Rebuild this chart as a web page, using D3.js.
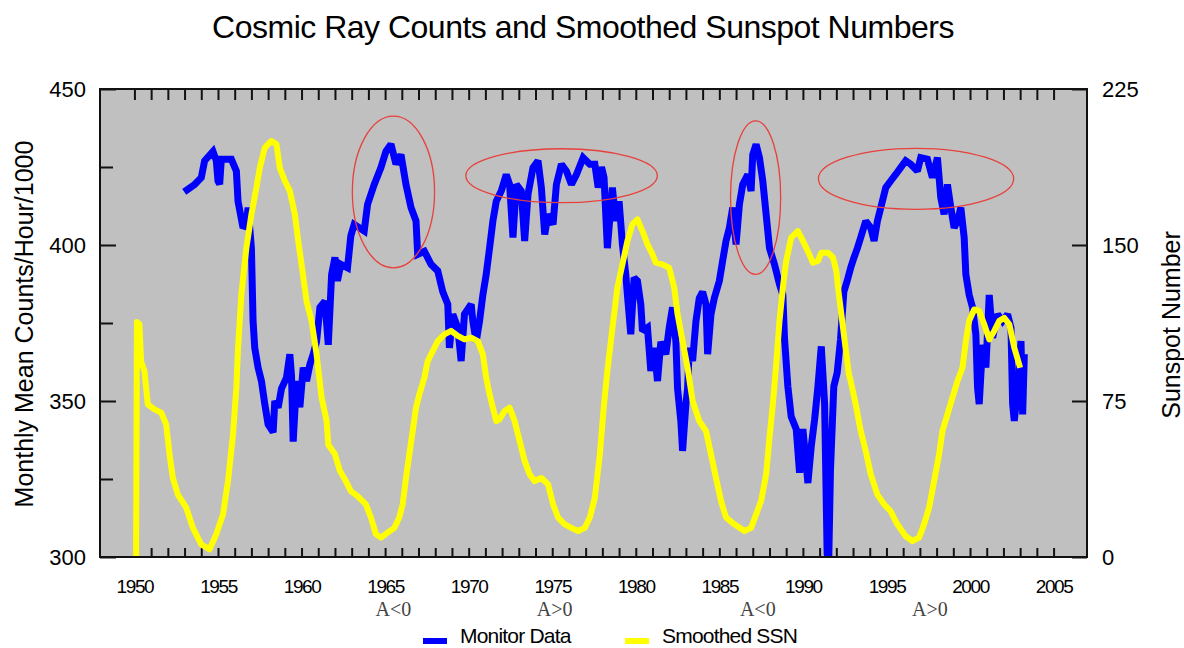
<!DOCTYPE html>
<html>
<head>
<meta charset="utf-8">
<script src="https://cdn.jsdelivr.net/npm/d3@7"></script>
<style>
  body { margin: 0; background: #fff; }
  svg { display: block; font-family: "Liberation Sans", Arial, sans-serif; }
</style>
</head>
<body>
<svg width="1184" height="648"></svg>
<script>
// ---- data ----
var monitorYears = [1952.98, 1953.6, 1954.0, 1954.2, 1954.7, 1954.9, 1955.0, 1955.1, 1955.2, 1955.8,
  1956.1, 1956.2, 1956.5, 1956.7, 1956.8, 1957.0, 1957.1, 1957.2, 1957.4, 1957.6,
  1957.8, 1958.0, 1958.3, 1958.4, 1958.6, 1958.8, 1959.1, 1959.3, 1959.4, 1959.5,
  1959.7, 1959.9, 1960.1, 1960.3, 1960.5, 1960.7, 1960.9, 1961.1, 1961.4, 1961.6,
  1961.8, 1962.0, 1962.15, 1962.35, 1962.75, 1962.95, 1963.15, 1963.75, 1963.95, 1964.35,
  1964.75, 1965.05, 1965.35, 1965.65, 1965.95, 1966.25, 1966.55, 1966.85, 1966.95, 1967.35,
  1967.75, 1968.15, 1968.45, 1968.75, 1968.85, 1969.05, 1969.35, 1969.55, 1969.75, 1970.15,
  1970.25, 1970.45, 1970.65, 1970.85, 1971.05, 1971.25, 1971.45, 1971.65, 1971.95, 1972.25,
  1972.45, 1972.65, 1972.85, 1973.15, 1973.35, 1973.55, 1973.85, 1974.15, 1974.35, 1974.55,
  1974.75, 1975.05, 1975.25, 1975.55, 1975.85, 1976.15, 1976.45, 1976.85, 1977.25, 1977.55,
  1977.75, 1977.95, 1978.1, 1978.3, 1978.6, 1978.8, 1979.0, 1979.2, 1979.4, 1979.5,
  1979.7, 1979.9, 1980.1, 1980.3, 1980.4, 1980.7, 1980.9, 1981.1, 1981.3, 1981.5,
  1981.8, 1982.0, 1982.2, 1982.4, 1982.5, 1982.7, 1982.8, 1983.0, 1983.1, 1983.2,
  1983.4, 1983.6, 1983.8, 1984.0, 1984.2, 1984.3, 1984.5, 1984.7, 1985.0, 1985.2,
  1985.4, 1985.6, 1985.8, 1986.0, 1986.2, 1986.4, 1986.7, 1986.9, 1987.0, 1987.2,
  1987.4, 1987.6, 1987.8, 1988.0, 1988.3, 1988.6, 1988.8, 1988.9, 1989.1, 1989.3,
  1989.6, 1989.8, 1990.0, 1990.3, 1990.5, 1990.7, 1990.9, 1991.1, 1991.3, 1991.45,
  1991.55, 1991.65, 1991.85, 1992.05, 1992.25, 1992.45, 1992.65, 1992.86, 1993.06, 1993.26,
  1993.46, 1993.76, 1994.06, 1994.26, 1994.46, 1994.66, 1994.96, 1995.25, 1995.55, 1995.85,
  1996.15, 1996.45, 1996.85, 1997.05, 1997.45, 1997.75, 1998.05, 1998.25, 1998.45, 1998.65,
  1998.85, 1999.05, 1999.25, 1999.45, 1999.65, 1999.75, 1999.95, 2000.15, 2000.35, 2000.45,
  2000.55, 2000.75, 2000.95, 2001.15, 2001.35, 2001.65, 2001.95, 2002.25, 2002.45, 2002.55,
  2002.65, 2002.85, 2003.05, 2003.15, 2003.25];
var monitorCounts = [417, 419.4, 421.6, 427, 430, 427, 420.5, 419.5, 427.5, 427.5,
  423.7, 414, 405.5, 406.6, 412, 399, 375.6, 367, 360.7, 356.4,
  349, 342.5, 340, 350, 347.9, 354, 357.5, 365, 358, 337,
  356.4, 348, 360.7, 356.4, 361.7, 365, 369, 380, 382, 368,
  390.6, 396, 388.5, 393.8, 392.7, 403, 406.6, 404.5, 413, 419.4,
  424.8, 430, 432.3, 425.9, 429, 419.4, 412, 407.7, 397, 398,
  393.8, 391.7, 385, 381, 367, 377.8, 373.5, 362.8, 377.8, 381,
  375.6, 369, 375.6, 384, 390.6, 399, 407.7, 414, 417.3, 422.6,
  419.4, 402.4, 419.4, 417.3, 401.3, 416.2, 424.8, 427, 418.4, 403.4,
  409.8, 406.6, 419.4, 425.9, 423.7, 419.4, 422.6, 428, 425.9, 425.9,
  418.4, 425, 421.6, 399, 418.4, 407.7, 414, 400.2, 390.6, 384,
  371.4, 389.5, 388.5, 381, 372.4, 373.5, 359.6, 367, 356.4, 369,
  365, 373.5, 380, 369, 354, 343.4, 334, 349, 354, 367,
  362.8, 375.6, 383, 385, 381, 365, 377.8, 383, 388.5, 395,
  401.3, 405.5, 412, 400.2, 413, 419.4, 422.6, 417.3, 429, 432.3,
  428, 420.5, 409.8, 399, 393.8, 387.4, 384, 370, 354.7, 345,
  341, 327, 341, 323.7, 335.5, 344, 354.7, 367.5, 349, 301,
  300, 328, 354.7, 359, 369.6, 385, 388.5, 392.7, 396, 399,
  402.4, 407.7, 405.5, 401.3, 407.7, 412, 418.4, 420.5, 422.6, 424.8,
  427, 425.9, 423.7, 428, 427.5, 421.6, 428, 415.2, 409.8, 419.4,
  412, 405.5, 407.7, 412, 402.4, 390.6, 384, 380, 371.4, 354.3,
  349, 368, 360.7, 384, 370.3, 377.8, 375.6, 377.8, 373.5, 349,
  343.6, 354.3, 369.2, 345.7, 365];

var ssnYears = [1950.1, 1950.15, 1950.3, 1950.4, 1950.6, 1950.8, 1951.2, 1951.6, 1951.9, 1952.1,
  1952.3, 1952.6, 1953.1, 1953.5, 1954.0, 1954.5, 1954.9, 1955.3, 1955.6, 1955.9,
  1956.1, 1956.2, 1956.4, 1956.7, 1957.0, 1957.3, 1957.5, 1957.8, 1958.2, 1958.5,
  1958.7, 1959.0, 1959.3, 1959.6, 1959.8, 1960.0, 1960.3, 1960.6, 1960.9, 1961.2,
  1961.5, 1961.6, 1962.0, 1962.3, 1962.65, 1962.95, 1963.35, 1963.85, 1964.15, 1964.45,
  1964.75, 1965.15, 1965.55, 1965.85, 1966.05, 1966.25, 1966.45, 1966.65, 1966.85, 1967.05,
  1967.35, 1967.55, 1967.85, 1968.15, 1968.55, 1968.95, 1969.35, 1969.75, 1970.15, 1970.55,
  1970.85, 1971.05, 1971.25, 1971.45, 1971.65, 1971.85, 1972.15, 1972.45, 1972.75, 1973.05,
  1973.35, 1973.65, 1973.95, 1974.35, 1974.75, 1975.05, 1975.35, 1975.75, 1976.15, 1976.55,
  1976.95, 1977.25, 1977.55, 1977.85, 1978.1, 1978.3, 1978.6, 1978.9, 1979.2, 1979.5,
  1979.8, 1980.1, 1980.4, 1980.7, 1981.0, 1981.2, 1981.6, 1982.0, 1982.3, 1982.5,
  1982.8, 1983.1, 1983.4, 1983.8, 1984.2, 1984.5, 1984.8, 1985.1, 1985.4, 1985.9,
  1986.5, 1986.9, 1987.2, 1987.5, 1987.8, 1988.0, 1988.2, 1988.4, 1988.6, 1988.8,
  1989.0, 1989.3, 1989.7, 1990.0, 1990.3, 1990.6, 1990.9, 1991.1, 1991.5, 1991.8,
  1992.0, 1992.15, 1992.35, 1992.55, 1992.75, 1992.86, 1993.16, 1993.46, 1993.76, 1994.06,
  1994.46, 1994.86, 1995.25, 1995.65, 1996.15, 1996.55, 1996.95, 1997.25, 1997.55, 1997.85,
  1998.15, 1998.35, 1998.65, 1998.95, 1999.25, 1999.55, 1999.75, 1999.95, 2000.25, 2000.55,
  2000.85, 2001.15, 2001.45, 2001.75, 2002.05, 2002.35, 2002.65, 2003.0];
var ssnValues = [0, 113, 112, 94, 89.4, 73.4, 71, 69.4, 63.8, 49.4,
  38, 30, 23.7, 14, 6, 3.7, 11, 20.5, 36.5, 59,
  81.4, 100.6, 126.3, 148.7, 164.7, 177.6, 187, 196.8, 200, 198.4,
  187, 180.8, 176, 164.7, 152, 140.7, 123, 113.5, 97.4, 76.6,
  65.4, 54, 49.4, 41.3, 36.5, 31.7, 29.3, 25.3, 19, 11,
  9.3, 11.7, 14, 19, 25.3, 38, 49.4, 60.6, 71.8, 78.2,
  86.2, 94.2, 99, 103.8, 107, 108.7, 106.3, 104.6, 105.4, 103.8,
  97.4, 86.2, 78.2, 71.8, 65.4, 66.2, 70.2, 71.8, 65.4, 55.8,
  46.2, 39.7, 36.5, 38, 35, 25.3, 19, 15.7, 14, 12.5,
  14, 19, 28.5, 49.4, 73.4, 89.4, 110, 129.5, 140.7, 152,
  160, 162.3, 156.7, 150.3, 145.5, 141.5, 140.7, 139, 129.5, 116.7,
  103.8, 91, 75, 65.4, 60.6, 49.4, 38, 27, 19, 15.7,
  12.5, 14, 20.5, 27, 39.7, 57.4, 73.4, 92.6, 113.5, 129.5,
  142.3, 153.5, 156.7, 152, 147, 141.5, 142.3, 146.3, 146.3, 144,
  137.5, 126.3, 113.5, 100.6, 87.8, 84.6, 73.4, 60.6, 51, 39.7,
  30, 25.3, 22, 15.7, 10, 7.7, 9.3, 15.7, 23.7, 36.5,
  49.4, 60.6, 68.6, 76.6, 84.6, 91, 103.8, 113.5, 119, 118.3,
  111.9, 104.6, 108.7, 113.5, 115, 111.9, 100.6, 91];

var yearTicks = d3.range(1950, 2006);
var yearLabels = d3.range(1950, 2006, 5);
var countTicks = [300, 325, 350, 375, 400, 425, 450];
var countLabels = [300, 350, 400, 450];
var ssnTicks = [0, 75, 150, 225];

// ellipses: centre year, centre count, half width (years), half height (counts)
var ellipses = [
  {year: 1965.5, count: 417.0, ry: 2.46, rc: 24.3},
  {year: 1975.56, count: 422.2, ry: 5.73, rc: 8.65},
  {year: 1987.17, count: 415.2, ry: 1.50, rc: 24.6},
  {year: 1996.77, count: 421.2, ry: 5.84, rc: 9.8}
];
var polarity = [
  {year: 1965.5, text: "A<0"},
  {year: 1975.15, text: "A>0"},
  {year: 1987.3, text: "A<0"},
  {year: 1997.6, text: "A>0"}
];

// ---- layout ----
var plotLeft = 100, plotRight = 1087, plotTop = 89, plotBottom = 557;
var svg = d3.select("svg");

var xScale = d3.scaleLinear().domain([1948, 2007]).range([plotLeft + 1, plotRight]);
var yScale = d3.scaleLinear().domain([300, 450]).range([plotBottom, plotTop]);
var ssnScale = d3.scaleLinear().domain([0, 225]).range([plotBottom, plotTop]);

svg.append("rect")
  .attr("x", plotLeft).attr("y", plotTop)
  .attr("width", plotRight - plotLeft).attr("height", plotBottom - plotTop)
  .attr("fill", "#c0c0c0");

// ticks (all point inward)
function styleAxis(g) {
  g.select(".domain").remove();
  g.selectAll(".tick line").attr("stroke", "#111").attr("stroke-width", 2);
}

svg.append("g")
  .attr("transform", `translate(0, ${plotBottom})`)
  .call(d3.axisBottom(xScale).tickValues(yearTicks).tickSize(-9).tickFormat(""))
  .call(styleAxis);

svg.append("g")
  .attr("transform", `translate(0, ${plotTop})`)
  .call(d3.axisTop(xScale).tickValues(yearTicks).tickSize(-11).tickFormat(""))
  .call(styleAxis);

var xLab = svg.append("g")
  .attr("transform", `translate(0, ${plotBottom})`)
  .call(d3.axisBottom(xScale).tickValues(yearLabels).tickSize(0).tickPadding(22.5).tickFormat(d3.format("d")));
xLab.select(".domain").remove();
xLab.selectAll("text")
  .attr("fill", "#000")
  .style("font-family", "Liberation Sans, Arial, sans-serif")
  .style("font-size", "19px")
  .style("letter-spacing", "-1.4px");

var yAx = svg.append("g")
  .attr("transform", `translate(${plotLeft}, 0)`)
  .call(d3.axisLeft(yScale).tickValues(countTicks).tickPadding(14)
    .tickSize(0)
    .tickFormat(d => countLabels.indexOf(d) >= 0 ? d : ""))
  .call(styleAxis);
yAx.selectAll(".tick line")
  .attr("x2", d => countLabels.indexOf(d) >= 0 ? 16 : 13);
yAx.selectAll("text")
  .attr("fill", "#000")
  .style("font-family", "Liberation Sans, Arial, sans-serif")
  .style("font-size", "22px");

var rAx = svg.append("g")
  .attr("transform", `translate(${plotRight}, 0)`)
  .call(d3.axisRight(ssnScale).tickValues(ssnTicks).tickSize(-15).tickPadding(15))
  .call(styleAxis);
rAx.selectAll("text")
  .attr("fill", "#000")
  .style("font-family", "Liberation Sans, Arial, sans-serif")
  .style("font-size", "22px");

// series
svg.append("clipPath").attr("id", "plot")
  .append("rect")
  .attr("x", plotLeft).attr("y", plotTop)
  .attr("width", plotRight - plotLeft).attr("height", plotBottom - plotTop);

var plot = svg.append("g").attr("clip-path", "url(#plot)");

var monitorLine = d3.line()
  .x((d, i) => xScale(monitorYears[i]))
  .y(d => yScale(d));
var ssnLine = d3.line()
  .x((d, i) => xScale(ssnYears[i]))
  .y(d => ssnScale(d));

plot.append("path")
  .datum(monitorCounts)
  .attr("d", monitorLine)
  .attr("fill", "none")
  .attr("stroke", "#0000ff")
  .attr("stroke-width", 7)
  .attr("stroke-linejoin", "miter")
  .attr("stroke-miterlimit", 2);

plot.append("path")
  .datum(ssnValues)
  .attr("d", ssnLine)
  .attr("fill", "none")
  .attr("stroke", "#ffff00")
  .attr("stroke-width", 6)
  .attr("stroke-linejoin", "round");

plot.selectAll("ellipse")
  .data(ellipses)
  .enter()
  .append("ellipse")
    .attr("cx", d => xScale(d.year))
    .attr("cy", d => yScale(d.count))
    .attr("rx", d => xScale(d.year + d.ry) - xScale(d.year))
    .attr("ry", d => yScale(d.count - d.rc) - yScale(d.count))
    .attr("fill", "none")
    .attr("stroke", "#e8403c")
    .attr("stroke-width", 1.3);

// frame
svg.append("rect")
  .attr("x", plotLeft).attr("y", plotTop)
  .attr("width", plotRight - plotLeft).attr("height", plotBottom - plotTop)
  .attr("fill", "none")
  .attr("stroke", "#111")
  .attr("stroke-width", 2);

// polarity notes
svg.selectAll(".pol")
  .data(polarity)
  .enter()
  .append("text")
    .attr("class", "pol")
    .attr("x", d => xScale(d.year))
    .attr("y", 616)
    .style("text-anchor", "middle")
    .style("font-family", "Liberation Serif, Times New Roman, serif")
    .style("font-size", "20px")
    .attr("fill", "#444")
    .text(d => d.text);

// titles
svg.append("text")
  .attr("x", 583)
  .attr("y", 38)
  .style("text-anchor", "middle")
  .style("font-size", "32px")
  .style("letter-spacing", "-0.5px")
  .text("Cosmic Ray Counts and Smoothed Sunspot Numbers");

svg.append("text")
  .attr("transform", "rotate(-90)")
  .attr("x", -324)
  .attr("y", 33)
  .style("text-anchor", "middle")
  .style("font-size", "25px")
  .text("Monthly Mean Counts/Hour/1000");

svg.append("text")
  .attr("transform", "rotate(-90)")
  .attr("x", -325)
  .attr("y", 1180)
  .style("text-anchor", "middle")
  .style("font-size", "25px")
  .text("Sunspot Number");

// legend
var legendItems = [
  {label: "Monitor Data", color: "#0000ff", x: 423},
  {label: "Smoothed SSN", color: "#ffff00", x: 625}
];
var legend = svg.selectAll(".legend")
  .data(legendItems)
  .enter()
  .append("g")
    .attr("class", "legend")
    .attr("transform", d => `translate(${d.x}, 643)`);
legend.append("rect")
  .attr("x", 0).attr("y", -5)
  .attr("width", 24).attr("height", 6)
  .attr("fill", d => d.color);
legend.append("text")
  .attr("x", 37)
  .attr("y", 0)
  .style("font-size", "21px")
  .style("letter-spacing", "-0.8px")
  .text(d => d.label);
</script>
</body>
</html>
